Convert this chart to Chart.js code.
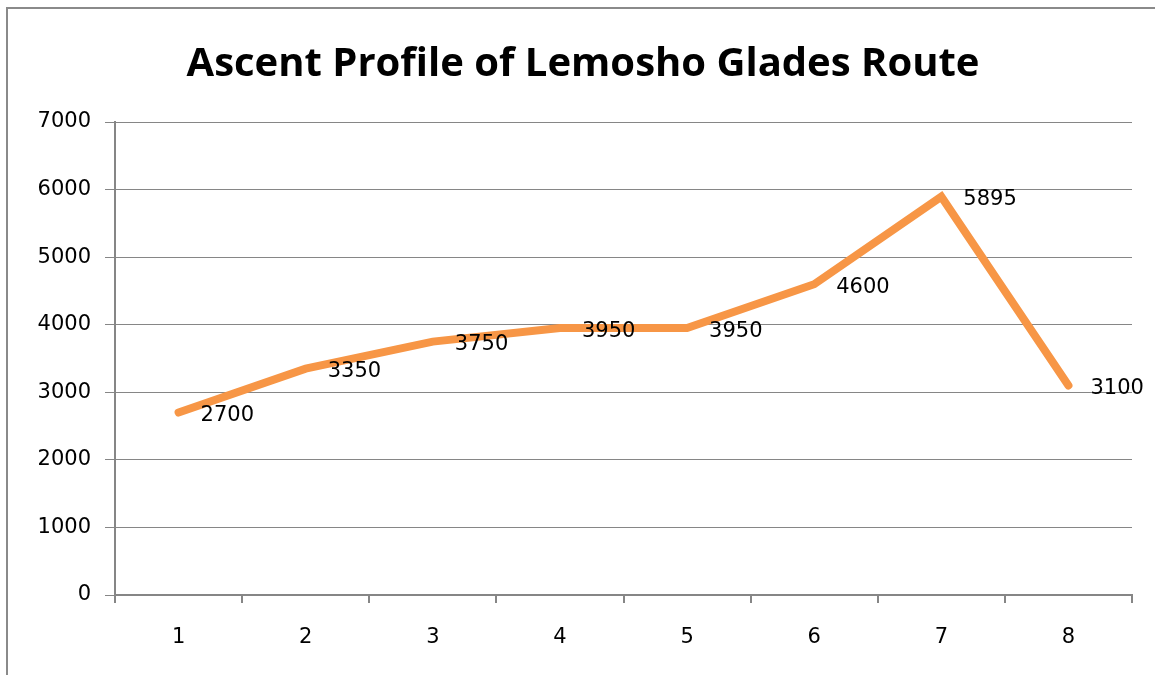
<!DOCTYPE html>
<html>
<head>
<meta charset="utf-8">
<script src="https://cdn.jsdelivr.net/npm/chart.js@4/dist/chart.umd.min.js"></script>
<style>
  html, body { margin: 0; padding: 0; background: #fff; }
  #wrap { position: relative; width: 1155px; height: 675px; }
</style>
</head>
<body>
<div id="wrap"><canvas id="ascentChart" width="1155" height="675"></canvas></div>
<script>
// ── Data ────────────────────────────────────────────────────────────────────
const stages    = ['1', '2', '3', '4', '5', '6', '7', '8'];
const altitudes = [2700, 3350, 3750, 3950, 3950, 4600, 5895, 3100];
const yMin = 0, yMax = 7000, yStep = 1000;
const chartTitle = 'Ascent Profile of Lemosho Glades Route';

const LINE_COLOR = '#F79646';
const AXIS_COLOR = '#868686';
const TICK_FONT  = { family: '"DejaVu Sans", Verdana, sans-serif', size: 21 };

// ── Plugins ─────────────────────────────────────────────────────────────────

// outer frame (only left + top edges visible in the reference)
const framePlugin = {
    id: 'frame',
    beforeDraw(chart) {
        const ctx = chart.ctx;
        ctx.save();
        ctx.strokeStyle = '#8a8a8a';
        ctx.lineWidth = 2;
        ctx.beginPath();
        ctx.moveTo(7, 675);
        ctx.lineTo(7, 8);
        ctx.lineTo(1155, 8);
        ctx.stroke();
        ctx.restore();
    }
};

// value labels to the right of each point
const valueLabels = {
    id: 'valueLabels',
    afterDatasetsDraw(chart) {
        const ctx = chart.ctx;
        const meta = chart.getDatasetMeta(0);
        ctx.save();
        ctx.font = `${TICK_FONT.size}px ${TICK_FONT.family}`;
        ctx.fillStyle = '#000';
        ctx.textAlign = 'left';
        ctx.textBaseline = 'middle';
        meta.data.forEach((pt, i) => {
            ctx.fillText(String(altitudes[i]), pt.x + 22, pt.y + 3);
        });
        ctx.restore();
    }
};

// ── Chart ───────────────────────────────────────────────────────────────────

const ctx = document.getElementById('ascentChart').getContext('2d');
new Chart(ctx, {
    type: 'line',
    data: {
        labels: stages,
        datasets: [{
            label: 'Altitude',
            data: altitudes,
            borderColor: LINE_COLOR,
            borderWidth: 8,
            borderCapStyle: 'round',
            borderJoinStyle: 'miter',
            pointRadius: 0,
            tension: 0,
            fill: false
        }]
    },
    options: {
        responsive: false,
        animation: false,
        // left/right padding also centres the title where the reference has it
        layout: { padding: { left: 34, right: 23, top: 0, bottom: 0 } },
        plugins: {
            legend: { display: false },
            tooltip: { enabled: false },
            title: {
                display: true,
                text: chartTitle,
                color: '#000',
                font: { family: '"Liberation Sans Narrow", "Open Sans", sans-serif', size: 40, weight: 'bold' },
                padding: { top: 41, bottom: 33 }
            }
        },
        scales: {
            x: {
                offset: true,
                grid: {
                    offset: true,
                    drawOnChartArea: false,
                    drawTicks: true,
                    tickLength: 8,
                    color: AXIS_COLOR,
                    lineWidth: 2
                },
                border: { color: AXIS_COLOR, width: 2 },
                ticks: { color: '#000', font: TICK_FONT, padding: 22, maxRotation: 0 },
                afterFit(scale) { scale.height = 80; }
            },
            y: {
                min: yMin,
                max: yMax,
                grid: { color: AXIS_COLOR, lineWidth: 1, tickLength: 10 },
                border: { color: AXIS_COLOR, width: 2 },
                ticks: {
                    stepSize: yStep,
                    color: '#000',
                    font: TICK_FONT,
                    padding: 14,
                    callback: v => String(v)
                },
                afterFit(scale) { scale.width = 81; }
            }
        }
    },
    plugins: [framePlugin, valueLabels]
});
</script>
</body>
</html>
